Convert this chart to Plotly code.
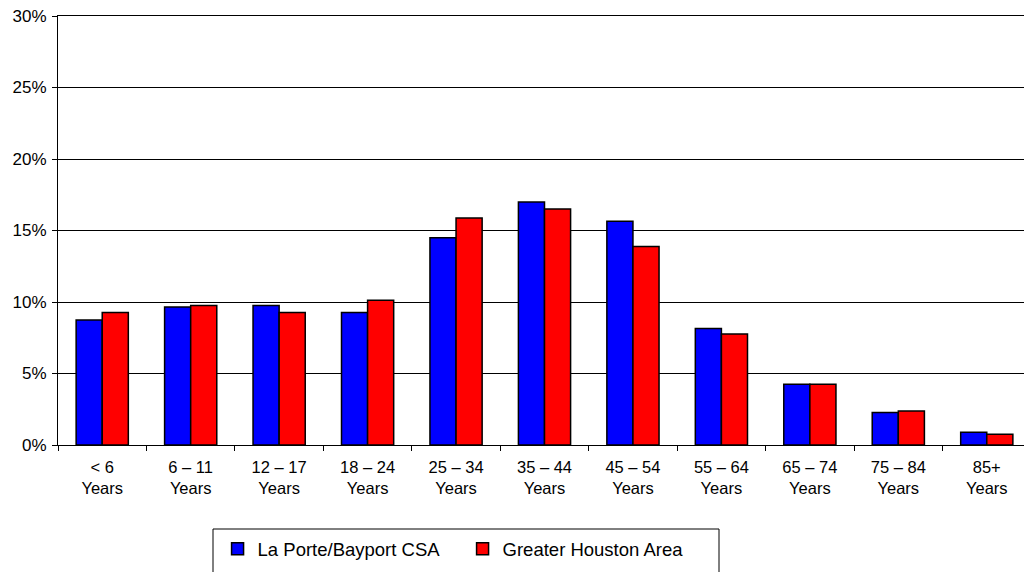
import plotly.graph_objects as go

# age groups and population share (%)
age_groups = ['< 6<br>Years', '6 – 11<br>Years', '12 – 17<br>Years', '18 – 24<br>Years',
              '25 – 34<br>Years', '35 – 44<br>Years', '45 – 54<br>Years', '55 – 64<br>Years',
              '65 – 74<br>Years', '75 – 84<br>Years', '85+<br>Years']
la_porte = [8.75, 9.65, 9.75, 9.27, 14.5, 17.0, 15.65, 8.15, 4.25, 2.27, 0.89]
houston = [9.27, 9.76, 9.27, 10.13, 15.88, 16.5, 13.88, 7.76, 4.25, 2.38, 0.76]
y_ticks = [0, 5, 10, 15, 20, 25, 30]
y_tick_labels = ['0%', '5%', '10%', '15%', '20%', '25%', '30%']

fig = go.Figure()
fig.add_trace(go.Bar(
    x=age_groups, y=la_porte, name='La Porte/Bayport CSA',
    marker=dict(color='#0000FF', line=dict(color='black', width=1.5))
))
fig.add_trace(go.Bar(
    x=age_groups, y=houston, name='Greater Houston Area',
    marker=dict(color='#FF0000', line=dict(color='black', width=1.5))
))

# page body has an 8px margin, so the figure is shrunk and shifted to compensate
fig.update_layout(
    width=1024, height=564,
    margin=dict(l=50, r=1, t=8, b=127, autoexpand=False),
    barmode='group', bargap=0.41, bargroupgap=0,
    plot_bgcolor='white', paper_bgcolor='white',
    font=dict(family='Liberation Sans, Arial', size=16, color='black'),
    showlegend=True,
    legend=dict(orientation='h', x=0.164, xanchor='left', y=-0.243, yanchor='middle',
                font=dict(size=18.5), entrywidth=200, bgcolor='rgba(0,0,0,0)',
                itemclick=False),
)

# mirror draws the top border where the 30% gridline sits
fig.update_xaxes(
    showline=True, linecolor='black', linewidth=1, mirror=True,
    ticks='outside', tickson='boundaries', ticklen=5, tickcolor='black',
    tickfont=dict(size=16.5), ticklabelstandoff=7,
    showgrid=False
)
fig.update_yaxes(
    range=[0, 30], tickmode='array', tickvals=y_ticks, ticktext=y_tick_labels,
    showline=True, linecolor='black', linewidth=1,
    ticks='outside', ticklen=5, tickcolor='black',
    tickfont=dict(size=17), ticklabeloverflow='allow', ticklabelstandoff=2,
    showgrid=True, gridcolor='black', gridwidth=1, zeroline=False
)

# legend frame
fig.add_shape(type='rect', xref='paper', yref='paper',
              x0=(213 - 58) / 973, x1=(719 - 58) / 973,
              y0=(445 - 600) / 429, y1=(445 - 529) / 429,
              line=dict(color='black', width=1), fillcolor='rgba(0,0,0,0)')

fig.write_html("out.html")
